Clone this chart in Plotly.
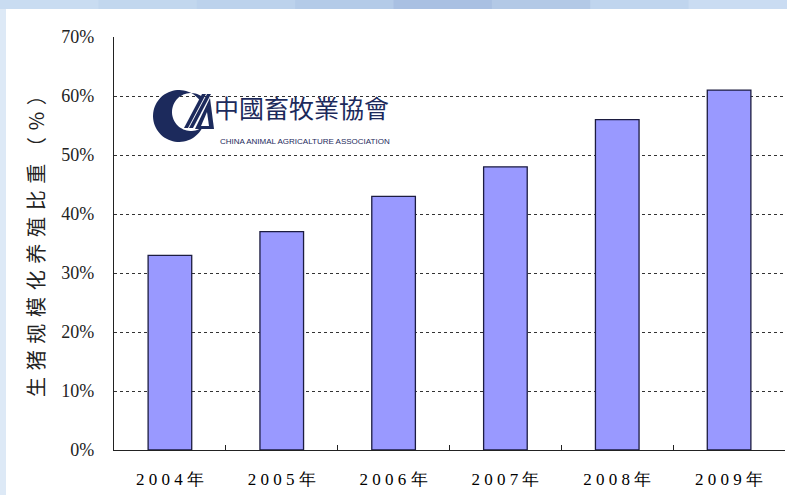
import numpy as np
import plotly.graph_objects as go

# ---- data ----
years = ["2004年", "2005年", "2006年", "2007年", "2008年", "2009年"]
share = [33, 37, 43, 48, 56, 61]           # %
y_ticks = [0, 10, 20, 30, 40, 50, 60, 70]
y_tick_text = [f"{v}%" for v in y_ticks]
y_title = "生猪规模化养殖比重（%）"
logo_cn = "中國畜牧業協會"
logo_en = "CHINA ANIMAL AGRICALTURE ASSOCIATION"

W, H = 787, 495
L, R, T, B = 114, 2, 37, 45
PW, PH = W - L - R, H - T - B


def px(x):
    return (x - L) / PW


def py(y):
    return (H - B - y) / PH


def spaced(s, sep="\u2004"):
    return sep.join(list(s))


SERIF = "Liberation Serif, Times New Roman, serif"

fig = go.Figure()
fig.add_trace(go.Bar(
    x=[spaced(y, "\u2005") for y in years],
    y=share,
    marker=dict(color="#9999FF", line=dict(color="#1c1c40", width=1.3)),
    hoverinfo="skip",
))

shapes = []
# top blue band (approximate gradient with stripes)
band_cols = ["#c9dcf1", "#c2d7ee", "#bcd2ec", "#b4cbe8", "#a9c0e2", "#b3c9e6", "#c0d5ee", "#cadcf2"]
n = len(band_cols)
for i, c in enumerate(band_cols):
    shapes.append(dict(type="rect", xref="paper", yref="paper",
                       x0=px(i * W / n), x1=px((i + 1) * W / n + 1),
                       y0=py(9), y1=py(0), fillcolor=c, line=dict(width=0), layer="below"))
# left light strip
shapes.append(dict(type="rect", xref="paper", yref="paper",
                   x0=px(0), x1=px(6), y0=py(H), y1=py(9),
                   fillcolor="#dde9f6", line=dict(width=0), layer="below"))

# logo crescent
cx, cy, r1 = 179, 116, 26
cx2, cy2, r2 = 191, 112, 19
a_out = np.radians(np.linspace(35, 325, 60))
a_in = np.radians(np.linspace(310, 50, 50))
pts = [(cx + r1 * np.cos(a), cy - r1 * np.sin(a)) for a in a_out]
pts += [(cx2 + r2 * np.cos(a), cy2 - r2 * np.sin(a)) for a in a_in]
path = "M " + " L ".join(f"{px(x):.5f},{py(y):.5f}" for x, y in pts) + " Z"
shapes.append(dict(type="path", xref="paper", yref="paper", path=path,
                   fillcolor="#1c2a5c", line=dict(width=0)))
# logo "A" stripes and triangle
for (x0, x1) in [(184, 188), (189, 193)]:
    poly = [(x0, 128), (x1, 128), (x1 + 18, 94), (x0 + 18, 94)]
    p = "M " + " L ".join(f"{px(x):.5f},{py(y):.5f}" for x, y in poly) + " Z"
    shapes.append(dict(type="path", xref="paper", yref="paper", path=p,
                       fillcolor="#1c2a5c", line=dict(width=0)))
tri = [(195, 129), (214, 129), (210, 98)]
p = "M " + " L ".join(f"{px(x):.5f},{py(y):.5f}" for x, y in tri) + " Z"
shapes.append(dict(type="path", xref="paper", yref="paper", path=p,
                   fillcolor="#1c2a5c", line=dict(width=0)))
tri2 = [(201, 126), (209, 126), (207, 112)]
p = "M " + " L ".join(f"{px(x):.5f},{py(y):.5f}" for x, y in tri2) + " Z"
shapes.append(dict(type="path", xref="paper", yref="paper", path=p,
                   fillcolor="white", line=dict(width=0)))

annotations = [
    dict(text=spaced(y_title, "\u2004"), textangle=-90, xref="paper", yref="paper",
         x=px(35), y=py(241), xanchor="center", yanchor="middle", showarrow=False,
         font=dict(family="Noto Sans CJK SC", size=20, color="#222222")),
    dict(text=logo_cn, xref="paper", yref="paper", x=px(212), y=py(107),
         xanchor="left", yanchor="middle", showarrow=False,
         font=dict(family="Noto Sans CJK TC", size=25, color="#1c2a5c")),
    dict(text=logo_en, xref="paper", yref="paper", x=px(218), y=py(141),
         xanchor="left", yanchor="middle", showarrow=False,
         font=dict(family="Liberation Sans Narrow, Liberation Sans, Arial", size=8, color="#1c2a5c")),
]

fig.update_layout(
    width=W, height=H,
    margin=dict(l=L, r=R, t=T, b=B, pad=0),
    paper_bgcolor="white", plot_bgcolor="white",
    showlegend=False,
    bargap=0.61,
    shapes=shapes,
    annotations=annotations,
    xaxis=dict(
        showline=True, linecolor="#222222", linewidth=1.2,
        ticks="inside", ticklen=5, tickcolor="#222222", tickson="boundaries",
        showgrid=False, mirror=False,
        tickfont=dict(family=SERIF, size=17, color="#000000"),
        ticklabelstandoff=13,
    ),
    yaxis=dict(
        range=[0, 70], tickvals=y_ticks, ticktext=y_tick_text,
        showline=True, linecolor="#222222", linewidth=1.2,
        showgrid=True, gridcolor="#333333", gridwidth=1, griddash="3px,3px",
        zeroline=False, ticks="",
        tickfont=dict(family=SERIF, size=18, color="#222222"),
        ticklabelstandoff=15,
    ),
)

fig.write_html(
    "out.html",
    config={"displayModeBar": False},
    post_script="document.body.style.margin='0';document.body.style.overflow='hidden';",
)
